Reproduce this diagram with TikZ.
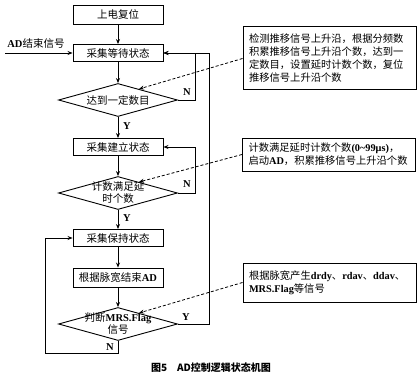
\documentclass[tikz,border=0pt]{standalone}
\usepackage{fontspec}
\setmainfont{Noto Sans CJK SC}
\newfontfamily\lat{Liberation Serif}
\usetikzlibrary{shapes.geometric,arrows.meta,calc}
\newcommand\lb[1]{{\lat\bfseries #1}}
\begin{document}
\begin{tikzpicture}[x=1pt,y=-1pt,
  box/.style={draw, line width=0.9pt, minimum width=90pt, minimum height=18pt, inner sep=0pt, font=\fontsize{10.5}{12}\selectfont},
  dia/.style={draw, shape=diamond, line width=0.9pt, minimum width=119pt, minimum height=33pt, inner sep=0pt},
  dtext/.style={align=center, font=\fontsize{10.5}{12}\selectfont, inner sep=0pt},
  notebox/.style={draw, line width=1pt, align=left, text width=161pt, inner xsep=6pt, inner ysep=2pt, font=\fontsize{10.3}{13}\selectfont},
  flow/.style={line width=0.8pt, -{Stealth[length=5pt,width=4pt]}},
  dashline/.style={line width=0.8pt, dash pattern=on 3pt off 2pt, -{Stealth[length=5pt,width=4pt]}},
  yn/.style={font=\lat\bfseries\fontsize{10.5}{12}\selectfont, inner sep=0pt}]
\useasboundingbox (0,0) rectangle (420,377);

% main flow
\node[box, minimum height=19pt] (b1) at (118,14.5) {上电复位};
\node[box, minimum height=17pt] (b2) at (118,53) {采集等待状态};
\node[dia] (d1) at (118,100) {};
\node[dtext] (d1t) at (d1.center) {达到一定数目};
\node[box, minimum height=17pt] (b3) at (118,147) {采集建立状态};
\node[dia] (d2) at (118,193) {};
\node[dtext] (d2t) at (d2.center) {计数满足延\\时个数};
\node[box, minimum height=17pt] (b4) at (118,238) {采集保持状态};
\node[box, minimum height=19pt] (b5) at (118,277.5) {根据脉宽结束\lb{AD}};
\node[dia] (d3) at (118,324) {};
\node[dtext] (d3t) at (d3.center) {判断\lb{MRS.Flag}\\信号};

% notes
\node[notebox, minimum height=63pt] (n1) at (329.5,58.5) {检测推移信号上升沿，根据分频数\\积累推移信号上升沿个数，达到一\\定数目，设置延时计数个数，复位\\推移信号上升沿个数};
\node[notebox, minimum height=33pt] (n2) at (329,154.5) {计数满足延时计数个数\lb{(0\textasciitilde 99μs)}，\\启动\lb{AD}，积累推移信号上升沿个数};
\node[notebox, minimum height=39pt] (n3) at (329.5,282.5) {根据脉宽产生\lb{drdy}、\lb{rdav}、\lb{ddav}、\\\lb{MRS.Flag}等信号};

% input
\coordinate (adin) at (5,53);
\node[font=\fontsize{10.5}{12}\selectfont, inner sep=0pt] (adlbl) at (36,44) {\lb{AD}结束信号};
\draw[flow] (adin) -- (b2.west);

% vertical flow
\draw[flow] (b1) -- (b2);
\draw[flow] (b2) -- (d1);
\draw[flow] (d1) -- (b3);
\draw[flow] (b3) -- (d2);
\draw[flow] (d2) -- (b4);
\draw[flow] (b4) -- (b5);
\draw[flow] (b5) -- (d3);

% loops
\coordinate (r1) at (195,100);
\coordinate (r2) at (195,193);
\coordinate (r3) at (209,324);
\coordinate (l1) at (118,353);
\coordinate (l2) at (45,353);
\draw[flow] (d1.east) -- (r1) |- (b2.east);
\draw[flow] (d3.east) -- (r3) |- (b2.east);
\draw[flow] (d2.east) -- (r2) |- (b3.east);
\draw[flow] (d3.south) -- (l1) -- (l2) |- (b4.west);

% Y / N labels
\node[yn] (y1) at (127,126) {Y};
\node[yn] (y2) at (127,218) {Y};
\node[yn] (n1l) at (187,92) {N};
\node[yn] (n2l) at (187,184) {N};
\node[yn] (y3) at (186,317) {Y};
\node[yn] (n3l) at (110,347) {N};

% dashed annotation links
\draw[dashline] (n1.west) -- ($(d1.north)!0.35!(d1.east)$);
\draw[dashline] (n2.west) -- ($(d2.north)!0.35!(d2.east)$);
\draw[dashline] (n3.west) -- ($(d3.north)!0.35!(d3.east)$);

% caption
\node[font=\bfseries\fontsize{10}{12}\selectfont, inner sep=0pt] (cap) at (211,368) {图5\quad \textbf{AD}控制逻辑状态机图};
\end{tikzpicture}
\end{document}
